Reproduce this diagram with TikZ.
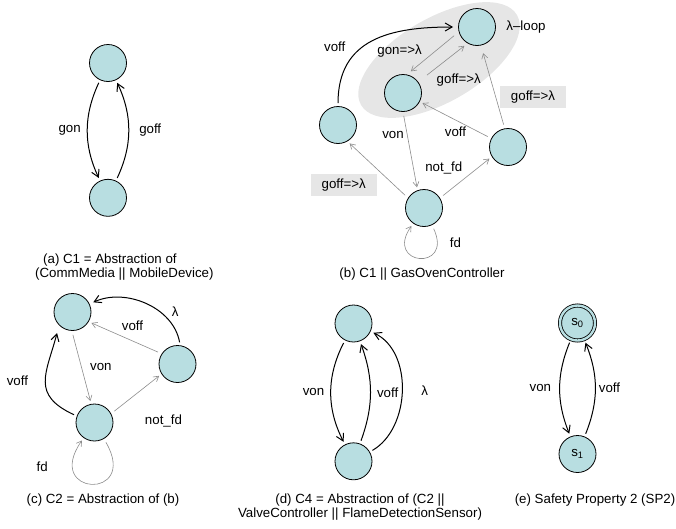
\documentclass[tikz,border=0pt]{standalone}
\usepackage{fontspec}
\setmainfont{Liberation Sans}
\usetikzlibrary{automata, positioning, arrows.meta}
\definecolor{statefill}{RGB}{184,222,225}
\definecolor{shadegray}{RGB}{230,230,230}
\definecolor{faintgray}{RGB}{140,140,140}

\begin{document}
\begin{tikzpicture}[x=1pt, y=-1pt, font=\fontsize{13.3}{14}\selectfont,
    every state/.style={draw, circle, fill=statefill, minimum size=37pt, inner sep=0pt, line width=0.8pt},
    >={Straight Barb[length=7pt, width=8pt]},
    strong/.style={->, line width=1pt, shorten >=3pt, shorten <=3pt},
    faint/.style={-{Straight Barb[length=5pt, width=6pt]}, draw=faintgray, line width=0.6pt, shorten >=3pt, shorten <=4pt},
    tag/.style={fill=shadegray, inner xsep=11pt, inner ysep=5pt},
    subcap/.style={inner sep=0pt, align=center}]
  \useasboundingbox (0,0) rectangle (676,528);
  \fill[shadegray, rotate around={30:(439,60)}] (439,60) ellipse [x radius=90pt, y radius=42pt];

  % (a)
  \node[state] (atop) at (108,63) {};
  \node[state, below=97pt of atop] (abot) {};
  \path
    (atop) edge[strong, bend right=25] node[left=3pt] {gon} (abot)
    (abot) edge[strong, bend right=25] node[right=7pt] {goff} (atop);
  \node[subcap, anchor=west, align=left] (capa) at (35,267) {\hspace*{8pt}(a) C1 = Abstraction of\\(CommMedia || MobileDevice)};

  % (b)
  \node[state, label={[label distance=7pt]right:λ–loop}] (blam) at (477,27) {};
  \node[state] (bmid) at (403,93) {};
  \node[state] (bleft) at (338,125) {};
  \node[state] (bright) at (508,147) {};
  \node[state] (bbot) at (424,208) {};
  \path
    (bleft) edge[strong, out=90, in=180, looseness=1.2, shorten >=5pt] node[pos=0.3, above left=4pt and 2pt] {voff} (blam)
    (blam.195) edge[faint, shorten <=6pt, shorten >=5pt] node[pos=0.45, left=10pt] {gon=>λ} (bmid.78)
    (bmid.36) edge[faint, shorten <=11pt, shorten >=4pt] node[pos=0.3, below right] {goff=>λ} (blam.240)
    (bmid.270) edge[faint] node[pos=0.3, left] {von} (bbot.110)
    (bright) edge[faint] node[below=3pt] {voff} (bmid)
    (bright.100) edge[faint, shorten >=8pt] node[tag, pos=0.38, right=4pt] {goff=>λ} (blam.282)
    (bbot.32) edge[faint] node[above left] {not\_fd} (bright.211)
    (bbot.148) edge[faint] node[tag, pos=0.23, left=17pt] {goff=>λ} (bleft.300)
    (bbot) edge[faint, out=-65, in=-125, looseness=7] node[pos=0.15, right=10pt] {fd} (bbot);
  \node[subcap] (capb) at (422,274) {(b) C1 || GasOvenController};

  % (c)
  \node[state] (ctop) at (72.5,312) {};
  \node[state] (cright) at (177.5,364) {};
  \node[state] (cbot) at (94.5,422.5) {};
  \path
    (cright.82) edge[strong, out=100, in=25, shorten >=4pt] node[pos=0.25, above right] {λ} (ctop)
    (cright.147) edge[faint] node[pos=0.4, above=7pt] {voff} (ctop.329)
    (ctop.268) edge[faint] node[right=5pt] {von} (cbot.100)
    (cbot.28) edge[faint] node[pos=0.6, below right=21pt and 0pt] {not\_fd} (cright.212)
    (cbot.160) edge[strong, out=155, in=-105, looseness=1.4, shorten >=8pt] node[left=14pt] {voff} (ctop.225)
    (cbot) edge[faint, out=-60, in=-125, looseness=9] node[pos=0.8, left=22pt] {fd} (cbot);
  \node[subcap] (capc) at (103,500) {(c) C2 = Abstraction of (b)};

  % (d)
  \node[state] (dtop) at (353.5,323.5) {};
  \node[state, below=100pt of dtop] (dbot) {};
  \path
    (dtop) edge[strong, bend right=27] node[left=3pt] {von} (dbot)
    (dbot) edge[strong, bend right=20] node[right=3pt] {voff} (dtop)
    (dbot) edge[strong, out=30, in=-25] node[right=16pt] {λ} (dtop);
  \node[subcap] (capd) at (360,507) {(d) C4 = Abstraction of (C2 ||\\ValveController || FlameDetectionSensor)};

  % (e)
  \node[state, accepting, double=statefill, double distance=2.4pt, minimum size=35pt] (szero) at (577.5,323) {s\textsubscript{0}};
  \node[state] (sone) at (577.5,454) {s\textsubscript{1}};
  \path
    (szero) edge[strong, bend right=22] node[left=5pt] {von} (sone)
    (sone) edge[strong, bend right=22] node[right] {voff} (szero);
  \node[subcap] (cape) at (595,500) {(e) Safety Property 2 (SP2)};
\end{tikzpicture}
\end{document}
